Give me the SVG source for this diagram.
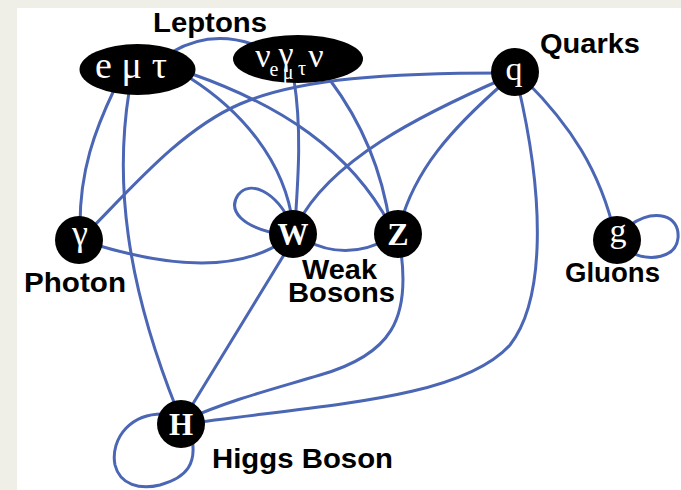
<svg xmlns="http://www.w3.org/2000/svg" width="681" height="490" viewBox="0 0 681 490">
<style>
.bg{fill:#efefe8}
.edge{fill:none;stroke:#4a66b4;stroke-width:3;stroke-linecap:round}
.node{fill:#000}
.nl{fill:#fff;font-family:"Liberation Serif","Times New Roman",serif;text-anchor:middle}
.b{font-weight:bold}
.lbl{fill:#000;font-family:"Liberation Sans",Arial,sans-serif;font-weight:bold;font-size:27px}
</style>
<rect class="bg" x="0" y="0" width="681" height="490"/>
<rect x="17" y="8" width="664" height="482" fill="#fff"/>
<g id="connectors">
<path class="edge" d="M172,52 Q210,30 252,44"/>
<path class="edge" d="M114,90 C95,130 80,170 80,225"/>
<path class="edge" d="M129,92 C115,180 125,280 177,410"/>
<path class="edge" d="M190,78 C240,110 285,160 293,225"/>
<path class="edge" d="M192,74 C280,105 350,150 390,225"/>
<path class="edge" d="M294,80 C302,130 298,180 295,225"/>
<path class="edge" d="M330,80 C360,120 382,170 390,225"/>
<path class="edge" d="M505,73 C390,73 300,78 240,104 S130,190 85,235"/>
<path class="edge" d="M505,78 C420,115 330,160 297,225"/>
<path class="edge" d="M505,82 C450,130 415,170 400,225"/>
<path class="edge" d="M525,80 C570,125 600,170 615,235"/>
<path class="edge" d="M518,85 C545,200 545,300 510,345 C460,400 320,405 185,424"/>
<path class="edge" d="M630,225 C655,208 680,215 678,238 C676,258 650,262 630,252"/>
<path class="edge" d="M292,225 C275,190 250,180 238,195 C228,210 240,228 285,235"/>
<path class="edge" d="M90,243 C170,268 240,272 285,240"/>
<path class="edge" d="M305,240 Q347,262 390,238"/>
<path class="edge" d="M290,245 L183,420"/>
<path class="edge" d="M400,245 C412,320 390,355 320,375 C270,390 230,400 185,420"/>
<path class="edge" d="M175,415 C130,408 110,440 115,465 C120,485 140,490 160,485 C185,478 200,465 190,430"/>
</g>
<g id="leptons-charged">
<ellipse class="node" cx="137.5" cy="69.5" rx="58" ry="25.5"/>
<text class="nl" x="131" y="78" font-size="38" textLength="72" lengthAdjust="spacing">e μ τ</text>
</g>
<g id="leptons-neutrinos">
<ellipse class="node" cx="298" cy="59" rx="65" ry="24"/>
<text class="nl" font-size="34" x="263" y="67">ν</text>
<text class="nl" font-size="20" x="274" y="76">e</text>
<text class="nl" font-size="34" x="286" y="65">γ</text>
<text class="nl" font-size="20" x="288" y="79">μ</text>
<text class="nl" font-size="20" x="302" y="75">τ</text>
<text class="nl" font-size="34" x="316" y="67">ν</text>
</g>
<g id="photon">
<circle class="node" cx="79" cy="240" r="24"/>
<text class="nl" font-size="36" x="80" y="245">γ</text>
</g>
<g id="W">
<circle class="node" cx="293" cy="234" r="24"/>
<text class="nl b" font-size="31" x="293" y="245">W</text>
</g>
<g id="Z">
<circle class="node" cx="398" cy="234" r="24"/>
<text class="nl b" font-size="32" x="398" y="245">Z</text>
</g>
<g id="q">
<circle class="node" cx="515" cy="72" r="24"/>
<text class="nl" font-size="34" x="514" y="80">q</text>
</g>
<g id="g">
<circle class="node" cx="617" cy="240" r="24"/>
<text class="nl" font-size="34" x="618" y="242">g</text>
</g>
<g id="H">
<circle class="node" cx="181" cy="424" r="24"/>
<text class="nl b" font-size="31" x="181" y="435">H</text>
</g>
<g id="labels">
<text class="lbl" x="153" y="32" textLength="114" lengthAdjust="spacingAndGlyphs">Leptons</text>
<text class="lbl" x="540" y="53" textLength="100" lengthAdjust="spacingAndGlyphs">Quarks</text>
<text class="lbl" x="24" y="292" textLength="102" lengthAdjust="spacingAndGlyphs">Photon</text>
<text class="lbl" x="302" y="279" textLength="75" lengthAdjust="spacingAndGlyphs">Weak</text>
<text class="lbl" x="288" y="302" textLength="107" lengthAdjust="spacingAndGlyphs">Bosons</text>
<text class="lbl" x="565" y="282" textLength="95" lengthAdjust="spacingAndGlyphs">Gluons</text>
<text class="lbl" x="212" y="468" textLength="181" lengthAdjust="spacingAndGlyphs">Higgs Boson</text>
</g>
</svg>
